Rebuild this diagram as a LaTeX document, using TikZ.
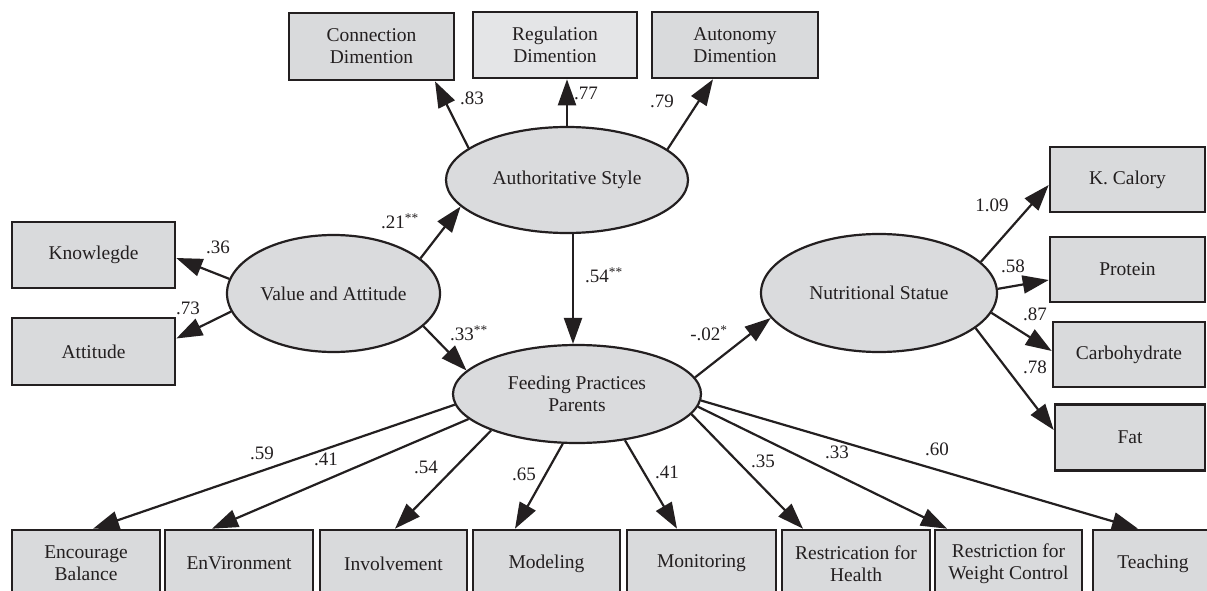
\documentclass[tikz,border=0pt]{standalone}
\usepackage{fontspec}
\setmainfont{Liberation Serif}
\usetikzlibrary{arrows.meta,shapes.geometric}
\definecolor{boxfill}{HTML}{D9DADC}
\definecolor{regfill}{HTML}{E4E5E7}
\definecolor{ellfill}{HTML}{DADBDD}
\definecolor{ink}{HTML}{231F20}
\begin{document}
\begin{tikzpicture}[x=1pt,y=-1pt,
  every node/.style={font=\fontsize{19.5}{22}\selectfont, text=ink},
  obs/.style={draw=ink, line width=2.6pt, fill=boxfill, rectangle, inner sep=0pt, align=center},
  lat/.style={draw=ink, line width=2.2pt, fill=ellfill, ellipse, inner sep=0pt, align=center},
  arr/.style={draw=ink, line width=2.2pt, -{Triangle[length=26pt,width=18pt]}},
  lab/.style={inner sep=0pt, font=\fontsize{19}{21}\selectfont}
]
\useasboundingbox (0,0) rectangle (1207,591);
\fill[white] (0,0) rectangle (1207,591);
\clip (0,0) rectangle (1207,591);

% top indicators
\node[obs, minimum width=165pt, minimum height=67pt] (conn) at (371.5,46.5) {Connection\\Dimention};
\node[obs, fill=regfill, minimum width=164pt, minimum height=66pt] (reg) at (555,45) {Regulation\\Dimention};
\node[obs, minimum width=166pt, minimum height=66pt] (auto) at (735,45) {Autonomy\\Dimention};
% left indicators
\node[obs, minimum width=163pt, minimum height=66pt] (know) at (93.5,255) {Knowlegde};
\node[obs, minimum width=163pt, minimum height=67pt] (att) at (93.5,351.5) {Attitude};
% right indicators
\node[obs, minimum width=155pt, minimum height=65pt] (kcal) at (1127.5,179.5) {K. Calory};
\node[obs, minimum width=155pt, minimum height=65pt] (prot) at (1127.5,269.5) {Protein};
\node[obs, minimum width=152pt, minimum height=65pt] (carb) at (1129,354.5) {Carbohydrate};
\node[obs, minimum width=150pt, minimum height=66pt] (fat) at (1130,437.5) {Fat};
% bottom indicators
\node[obs, minimum width=148pt, minimum height=67pt] (enc) at (86,563.5) {Encourage\\Balance};
\node[obs, minimum width=148pt, minimum height=67pt] (env) at (239,563.5) {EnVironment};
\node[obs, minimum width=147pt, minimum height=67pt] (inv) at (393.5,563.5) {Involvement};
\node[obs, minimum width=147pt, minimum height=67pt] (mod) at (546.5,563.5) {Modeling};
\node[obs, minimum width=149pt, minimum height=67pt] (mon) at (701.5,563.5) {Monitoring};
\node[obs, minimum width=148pt, minimum height=67pt] (rh) at (856,563.5) {Restrication for\\Health};
\node[obs, minimum width=147pt, minimum height=67pt] (rw) at (1008.5,563.5) {Restriction for\\Weight Control};
\node[obs, minimum width=120pt, minimum height=67pt] (teach) at (1153,563.5) {Teaching};

% latent variables
\node[lat, minimum width=242pt, minimum height=106pt] (auth) at (567,180) {Authoritative Style};
\node[lat, minimum width=213pt, minimum height=117pt] (va) at (333.5,293.5) {Value and Attitude};
\node[lat, minimum width=248pt, minimum height=98pt] (fp) at (577,394) {Feeding Practices\\Parents};
\node[lat, minimum width=236pt, minimum height=118pt] (ns) at (879,293) {Nutritional Statue};

% paths
\draw[arr] (auth.162) -- ([xshift=63.5pt]conn.south);
\draw[arr] (auth.north) -- ([xshift=12pt]reg.south);
\draw[arr] (auth.17) -- ([xshift=-22pt]auto.south);
\draw[arr] (va.172) -- ([yshift=-3pt]know.east);
\draw[arr] (va.190) -- ([yshift=13pt]att.east);
\draw[arr] (va.22) -- (auth.194);
\draw[arr] (va.340) -- (fp.168);
\draw[arr] ([xshift=6pt]auth.south) -- ([xshift=-4pt]fp.north);
\draw[arr] (fp.8) -- (ns.193);
\draw[arr] (ns.17) -- ([yshift=-5.5pt]kcal.west);
\draw[arr] (ns.2) -- ([yshift=-10.5pt]prot.west);
\draw[arr] (ns.350) -- ([yshift=3.5pt]carb.west);
\draw[arr] (ns.340) -- ([yshift=7.5pt]fat.west);
\draw[arr] (fp.185) -- ([xshift=7pt]enc.north);
\draw[arr] (fp.193) -- ([xshift=-27pt]env.north);
\draw[arr] (fp.203) -- ([xshift=1.5pt]inv.north);
\draw[arr] (fp.254) -- ([xshift=-31.5pt]mod.north);
\draw[arr] (fp.316) -- ([xshift=-24.5pt]mon.north);
\draw[arr] (fp.350) -- ([xshift=-53pt]rh.north);
\draw[arr] (fp.354) -- ([xshift=-61.5pt]rw.north);
\draw[arr] (fp.357) -- ([xshift=-15pt]teach.north);

% coefficients
\node[lab] (l83) at (472,98) {.83};
\node[lab] (l77) at (586,93) {.77};
\node[lab] (l79) at (662,101) {.79};
\node[lab] (l36) at (218,247) {.36};
\node[lab] (l73) at (188,308) {.73};
\node[lab] (l21) at (400,221) {.21\textsuperscript{**}};
\node[lab] (l33a) at (469,333) {.33\textsuperscript{**}};
\node[lab] (l54a) at (604,275) {.54\textsuperscript{**}};
\node[lab] (l02) at (709,333) {-.02\textsuperscript{*}};
\node[lab] (l109) at (992,205) {1.09};
\node[lab] (l58) at (1013,266) {.58};
\node[lab] (l87) at (1035,314) {.87};
\node[lab] (l78) at (1035,367) {.78};
\node[lab] (l59) at (262,453) {.59};
\node[lab] (l41a) at (326,459) {.41};
\node[lab] (l54b) at (426,467) {.54};
\node[lab] (l65) at (524,474) {.65};
\node[lab] (l41b) at (667,472) {.41};
\node[lab] (l35) at (763,461) {.35};
\node[lab] (l33b) at (837,452) {.33};
\node[lab] (l60) at (937,449) {.60};
\end{tikzpicture}
\end{document}
